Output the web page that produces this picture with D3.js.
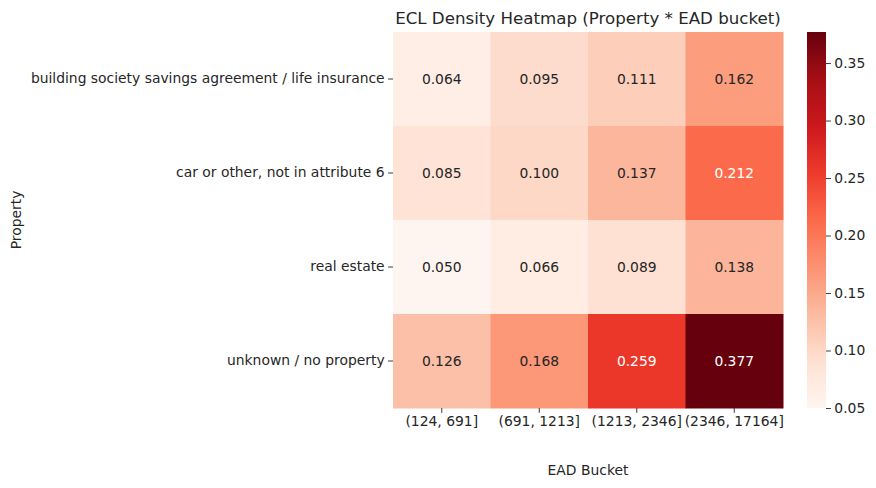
<!DOCTYPE html>
<html><head><meta charset="utf-8">
<script src="https://cdn.jsdelivr.net/npm/d3@7"></script>
<style>body{margin:0;background:#fff}text{font-family:"DejaVu Sans",sans-serif}</style>
</head><body>
<svg id="c" width="876" height="488"></svg>
<script>
const rows = ["building society savings agreement / life insurance","car or other, not in attribute 6","real estate","unknown / no property"];
const cols = ["(124, 691]","(691, 1213]","(1213, 2346]","(2346, 17164]"];
const values = [
  [0.064,0.095,0.111,0.162],
  [0.085,0.100,0.137,0.212],
  [0.050,0.066,0.089,0.138],
  [0.126,0.168,0.259,0.377]
];
const cbTicks = [0.05,0.10,0.15,0.20,0.25,0.30,0.35];
const redsColors = ["#fff5f0","#fee0d2","#fcbba1","#fc9272","#fb6a4a","#ef3b2c","#cb181d","#a50f15","#67000d"];
const title = "ECL Density Heatmap (Property * EAD bucket)";
const xTitle = "EAD Bucket", yTitle = "Property";

const FS = "13.89px";
const svg = d3.select("#c");
const L=393,R=783,T=32,B=408;
const x = d3.scaleBand().domain(cols).range([L,R]);
const y = d3.scaleBand().domain(rows).range([T,B]);
const flat = values.flat();
const vmin = d3.min(flat), vmax = d3.max(flat);
const reds = d3.scaleLinear().domain(redsColors.map((_,i)=>i/(redsColors.length-1))).range(redsColors).interpolate(d3.interpolateRgb);
const color = v => reds((v-vmin)/(vmax-vmin));

const cells=[];
rows.forEach((r,i)=>cols.forEach((c,j)=>cells.push({r,c,v:values[i][j]})));
svg.append("g").selectAll("rect").data(cells).join("rect")
  .attr("x",d=>x(d.c)).attr("y",d=>y(d.r)).attr("width",x.bandwidth()+0.5).attr("height",y.bandwidth()+0.5)
  .attr("fill",d=>color(d.v));
function lum(col){const c=d3.rgb(col);const f=u=>{u/=255;return u<=0.03928?u/12.92:Math.pow((u+0.055)/1.055,2.4);};return 0.2126*f(c.r)+0.7152*f(c.g)+0.0722*f(c.b);}
svg.append("g").selectAll("text").data(cells).join("text")
  .attr("x",d=>x(d.c)+x.bandwidth()/2).attr("y",d=>y(d.r)+y.bandwidth()/2)
  .attr("text-anchor","middle").attr("dominant-baseline","central").attr("font-size",FS)
  .attr("fill",d=>lum(color(d.v))>0.408?"#262626":"#fff").text(d=>d.v.toFixed(3));

const xa = svg.append("g").attr("transform",`translate(0,${B})`).call(d3.axisBottom(x).tickSize(4.86).tickPadding(3.5));
const ya = svg.append("g").attr("transform",`translate(${L},0)`).call(d3.axisLeft(y).tickSize(4.86).tickPadding(3.5));
[xa,ya].forEach(a=>{a.select(".domain").remove();a.selectAll("text").attr("font-size",FS).attr("fill","#262626").style("font-family","DejaVu Sans");a.selectAll("line").attr("stroke","#262626").attr("stroke-width",0.9);});

svg.append("text").attr("x",(L+R)/2).attr("y",24).attr("text-anchor","middle").attr("font-size","16.67px").attr("fill","#262626").text(title);
svg.append("text").attr("x",(L+R)/2).attr("y",475).attr("text-anchor","middle").attr("font-size",FS).attr("fill","#262626").text(xTitle);
svg.append("text").attr("transform",`translate(21,${(T+B)/2}) rotate(-90)`).attr("text-anchor","middle").attr("font-size",FS).attr("fill","#262626").text(yTitle);

// colorbar
const cbX=807,cbW=19;
const cy = d3.scaleLinear().domain([vmin,vmax]).range([B,T]);
const defs=svg.append("defs");
const grad=defs.append("linearGradient").attr("id","g").attr("x1",0).attr("y1",1).attr("x2",0).attr("y2",0);
d3.range(0,1.0001,0.02).forEach(t=>grad.append("stop").attr("offset",t).attr("stop-color",reds(t)));
svg.append("rect").attr("x",cbX).attr("y",T).attr("width",cbW).attr("height",B-T).attr("fill","url(#g)");
const ca = svg.append("g").attr("transform",`translate(${cbX+cbW},0)`).call(d3.axisRight(cy).tickValues(cbTicks).tickFormat(d3.format(".2f")).tickSize(4.86).tickPadding(3.5));
ca.select(".domain").remove();
ca.selectAll("text").attr("font-size",FS).attr("fill","#262626").style("font-family","DejaVu Sans");
ca.selectAll("line").attr("stroke","#262626").attr("stroke-width",0.9);
</script>
</body></html>
